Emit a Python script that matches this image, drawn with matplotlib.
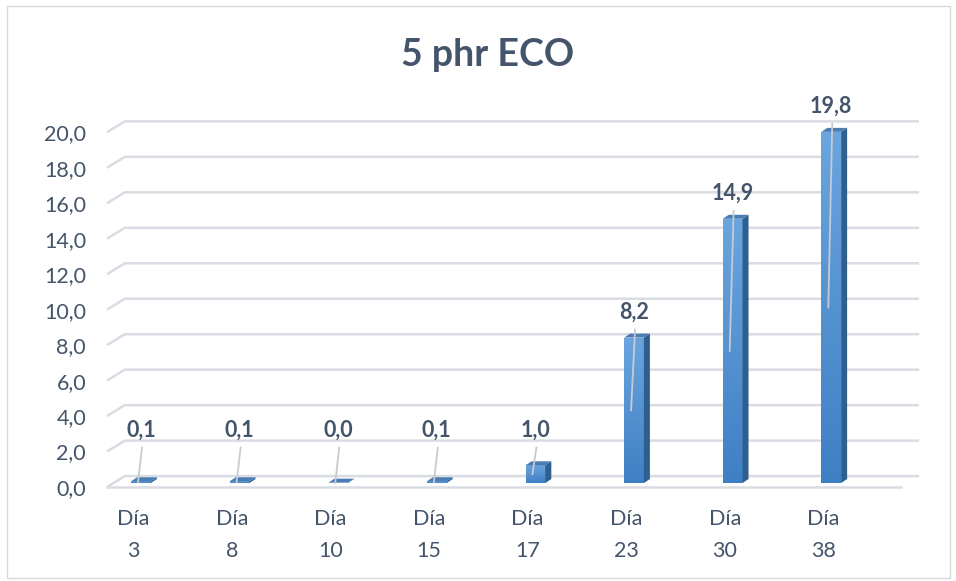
import numpy as np
import matplotlib.pyplot as plt
from matplotlib.patches import Polygon, Rectangle
from matplotlib.colors import LinearSegmentedColormap

# datos
dias = ['3', '8', '10', '15', '17', '23', '30', '38']
valores = [0.1, 0.1, 0.0, 0.1, 1.0, 8.2, 14.9, 19.8]
yticks = np.arange(0, 21, 2)

plt.rcParams['font.family'] = ['Lato', 'DejaVu Sans']
texto = '#44546a'
rejilla = '#d9dce3'

fig = plt.figure(figsize=(9.56, 5.81), dpi=100)
ax = fig.add_axes([0.1046, 0.1566, 0.863, 0.654])
xlim = (-0.416, 7.951)
ylim = (-0.395, 21.03)

# desplazamientos de la perspectiva (en unidades de datos)
frente_dy = -0.2255
fondo_dx, fondo_dy = 0.18, 0.39
prof_dx, prof_dy = 0.061, 0.225
x_ini = -0.345
x_fin = 7.71

# rejilla con pared del fondo
for v in yticks:
    ax.plot([x_ini, x_ini + fondo_dx, x_fin + fondo_dx],
            [v + frente_dy, v + fondo_dy, v + fondo_dy],
            color=rejilla, lw=1.8, zorder=1, solid_capstyle='butt')
# borde frontal del suelo
ax.plot([x_ini, x_fin], [frente_dy, frente_dy], color=rejilla, lw=1.8, zorder=1)

x = np.arange(len(dias))
ancho = 0.2
barras = ax.bar(x, valores, width=ancho, color='none', edgecolor='none', zorder=3)

grad = np.linspace(1, 0, 256).reshape(-1, 1)
cmap = LinearSegmentedColormap.from_list('azul', ['#3f7fc4', '#6aa5de'])
for b, v in zip(barras, valores):
    x0 = b.get_x()
    x1 = x0 + b.get_width()
    h = max(v, 0.02)
    im = ax.imshow(grad, extent=(x0, x1, 0, h), aspect='auto', cmap=cmap,
                   origin='upper', zorder=3)
    im.set_clip_path(b)
    lado = Polygon([(x1, 0), (x1 + prof_dx, prof_dy), (x1 + prof_dx, h + prof_dy), (x1, h)],
                   closed=True, facecolor='#2f5f8e', edgecolor='none', zorder=3)
    tapa = Polygon([(x0, h), (x0 + prof_dx, h + prof_dy), (x1 + prof_dx, h + prof_dy), (x1, h)],
                   closed=True, facecolor='#4b7db3', edgecolor='none', zorder=3)
    ax.add_patch(lado)
    ax.add_patch(tapa)

# etiquetas de datos con lineas guia
for xi, v in zip(x, valores):
    ye = max(v + 1.45, 3.0)
    ax.text(xi, ye, f'{v:.1f}'.replace('.', ','), ha='center', va='center',
            fontsize=15.5, fontweight='bold', color=texto, zorder=5)
    ax.plot([xi + 0.01, xi - 0.03], [ye - 1.0, v / 2], color='#c5cad3', lw=1.3, zorder=4)

ax.set_xlim(*xlim)
ax.set_ylim(*ylim)
ax.set_yticks(yticks + frente_dy, [f'{v:.1f}'.replace('.', ',') for v in yticks])
ax.set_xticks(x - 0.08, ['Día\n' + d for d in dias], linespacing=1.75)
ax.tick_params(axis='both', length=0, labelsize=15.5, labelcolor=texto)
ax.tick_params(axis='y', pad=10)
ax.tick_params(axis='x', pad=14)
for s in ax.spines.values():
    s.set_visible(False)

fig.text(0.51, 0.905, '5 phr ECO', ha='center', va='center', fontsize=27,
         fontweight='bold', color=texto)
fig.patches.append(Rectangle((7 / 956, 3 / 581), 943 / 956, 572 / 581, transform=fig.transFigure,
                             fill=False, edgecolor='#d9d9d9', lw=1))

fig.savefig('out.png', dpi=100)
